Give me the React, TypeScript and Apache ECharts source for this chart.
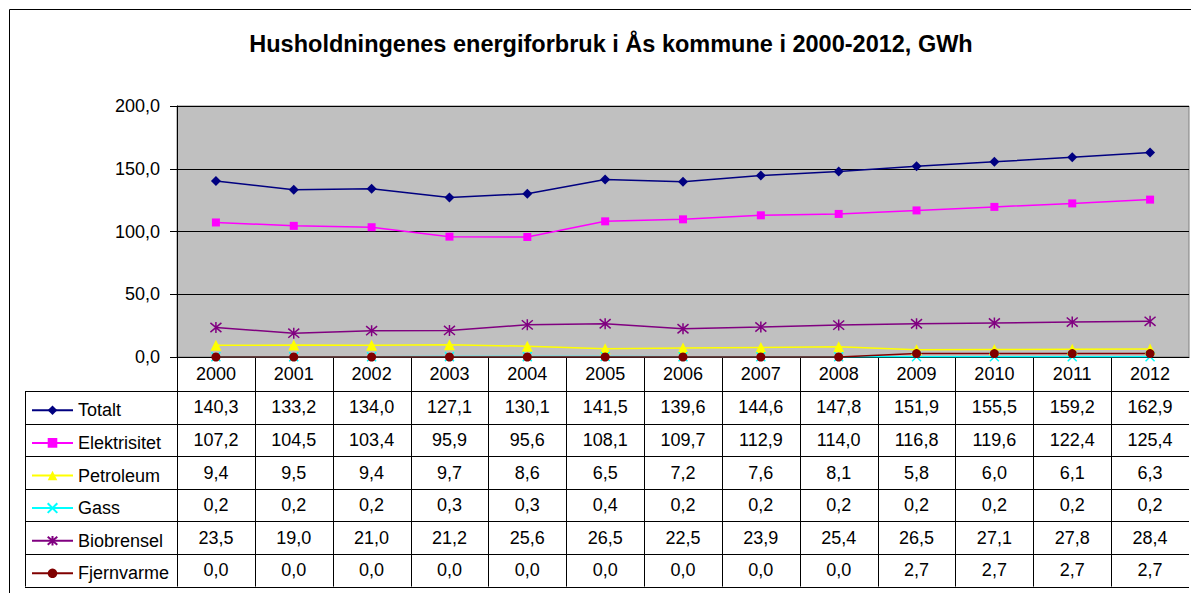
import React, { useEffect, useRef } from "react";
import * as echarts from "echarts";

const years = ["2000", "2001", "2002", "2003", "2004", "2005", "2006", "2007", "2008", "2009", "2010", "2011", "2012"];
const totalt = [140.3, 133.2, 134.0, 127.1, 130.1, 141.5, 139.6, 144.6, 147.8, 151.9, 155.5, 159.2, 162.9];
const elektrisitet = [107.2, 104.5, 103.4, 95.9, 95.6, 108.1, 109.7, 112.9, 114.0, 116.8, 119.6, 122.4, 125.4];
const petroleum = [9.4, 9.5, 9.4, 9.7, 8.6, 6.5, 7.2, 7.6, 8.1, 5.8, 6.0, 6.1, 6.3];
const gass = [0.2, 0.2, 0.2, 0.3, 0.3, 0.4, 0.2, 0.2, 0.2, 0.2, 0.2, 0.2, 0.2];
const biobrensel = [23.5, 19.0, 21.0, 21.2, 25.6, 26.5, 22.5, 23.9, 25.4, 26.5, 27.1, 27.8, 28.4];
const fjernvarme = [0.0, 0.0, 0.0, 0.0, 0.0, 0.0, 0.0, 0.0, 0.0, 2.7, 2.7, 2.7, 2.7];
const yTicks = { min: 0, max: 200, interval: 50 };
const title = "Husholdningenes energiforbruk i Ås kommune i 2000-2012, GWh";

const seriesDefs = [
  { name: "Totalt", data: totalt, color: "#000080", symbol: "diamond", size: 10, stroke: false },
  { name: "Elektrisitet", data: elektrisitet, color: "#FF00FF", symbol: "rect", size: 8, stroke: false },
  { name: "Petroleum", data: petroleum, color: "#FFFF00", symbol: "triangle", size: 11, stroke: false },
  { name: "Gass", data: gass, color: "#00FFFF", symbol: "path://M0,0L10,10M10,0L0,10", size: 9, stroke: true },
  { name: "Biobrensel", data: biobrensel, color: "#800080", symbol: "path://M0,0L10,10M10,0L0,10M5,-1L5,11", size: 11, stroke: true },
  { name: "Fjernvarme", data: fjernvarme, color: "#800000", symbol: "circle", size: 9, stroke: false },
];

const FONT = "'Liberation Sans', Arial, sans-serif";
const fmt = (v: number) => v.toFixed(1).replace(".", ",");

export default function App() {
  const ref = useRef<HTMLDivElement>(null);
  useEffect(() => {
    if (!ref.current) return;
    const chart = echarts.init(ref.current, null, { renderer: "svg" });
    const W = 1191;
    const gL = 177;
    const gR = 1189;
    const gT = 106;
    const gB = 357;
    const tableLeft = 25;
    const headerBottom = 391;
    const rowH = 32.6;
    const colW = (gR - gL) / years.length;
    const nRows = seriesDefs.length;
    const tableBottom = headerBottom + rowH * nRows;
    const rowCenter = (k: number) => headerBottom + rowH * (k + 0.5);

    const graphics: any[] = [];
    graphics.push({
      type: "rect",
      shape: { x: 9.5, y: 9.5, width: 1210, height: 610 },
      style: { fill: "none", stroke: "#000", lineWidth: 1 },
      silent: true,
    });
    for (let i = 0; i < years.length; i++) {
      const x = Math.round(gL + i * colW) + 0.5;
      graphics.push({
        type: "line",
        shape: { x1: x, y1: gB, x2: x, y2: tableBottom },
        style: { stroke: "#000", lineWidth: 1 },
        silent: true,
      });
    }
    graphics.push({
      type: "line",
      shape: { x1: tableLeft + 0.5, y1: headerBottom, x2: tableLeft + 0.5, y2: tableBottom },
      style: { stroke: "#000", lineWidth: 1 },
      silent: true,
    });
    for (let k = 0; k <= nRows; k++) {
      const y = Math.round(headerBottom + k * rowH) + 0.5;
      graphics.push({
        type: "line",
        shape: { x1: tableLeft, y1: y, x2: gR, y2: y },
        style: { stroke: "#000", lineWidth: 1 },
        silent: true,
      });
    }

    const xAxes: any[] = [
      {
        type: "category",
        data: years,
        gridIndex: 0,
        position: "bottom",
        boundaryGap: true,
        axisLine: { show: true, lineStyle: { color: "#000", width: 1 } },
        axisTick: { show: false },
        axisLabel: {
          interval: 0,
          margin: 17,
          verticalAlign: "middle",
          fontSize: 18,
          color: "#000",
          fontFamily: FONT,
        },
        splitLine: { show: false },
      },
    ];
    seriesDefs.forEach((s, k) => {
      xAxes.push({
        type: "category",
        data: years,
        gridIndex: 0,
        position: "bottom",
        offset: rowCenter(k) - gB,
        boundaryGap: true,
        axisLine: { show: false },
        axisTick: { show: false },
        splitLine: { show: false },
        axisLabel: {
          interval: 0,
          margin: 0,
          verticalAlign: "middle",
          fontSize: 18,
          color: "#000",
          fontFamily: FONT,
          formatter: (_v: string, i: number) => fmt(s.data[i]),
        },
      });
    });

    const legends = seriesDefs.map((s, k) => ({
      data: [s.name],
      orient: "vertical",
      left: 31,
      top: rowCenter(k) - 6,
      padding: 0,
      itemWidth: 41,
      itemHeight: 12,
      itemGap: 0,
      selectedMode: false,
      textStyle: { fontSize: 18, lineHeight: 12, color: "#000", fontFamily: FONT },
    }));

    chart.setOption({
      animation: false,
      textStyle: { fontFamily: FONT },
      title: {
        text: title,
        left: 606,
        top: 27,
        textAlign: "center",
        textStyle: { fontSize: 23.5, fontWeight: "bold", color: "#000", fontFamily: FONT },
      },
      legend: legends,
      grid: {
        left: gL,
        right: W - gR,
        top: gT,
        height: gB - gT,
        show: true,
        backgroundColor: "#C0C0C0",
        borderColor: "#808080",
        borderWidth: 1,
      },
      xAxis: xAxes,
      yAxis: {
        type: "value",
        min: yTicks.min,
        max: yTicks.max,
        interval: yTicks.interval,
        axisLine: { show: true, lineStyle: { color: "#000", width: 1 } },
        axisTick: { show: true, length: 7, lineStyle: { color: "#000" } },
        axisLabel: {
          margin: 17,
          fontSize: 18,
          color: "#000",
          fontFamily: FONT,
          formatter: (v: number) => fmt(v),
        },
        splitLine: { show: true, lineStyle: { color: "#000", width: 1 } },
      },
      series: seriesDefs.map((s) => ({
        name: s.name,
        type: "line",
        xAxisIndex: 0,
        yAxisIndex: 0,
        data: s.data,
        symbol: s.symbol,
        symbolSize: s.size,
        showSymbol: true,
        lineStyle: { color: s.color, width: 1.5 },
        itemStyle: s.stroke
          ? { color: s.color, borderColor: s.color, borderWidth: 1.5 }
          : { color: s.color, borderWidth: 0 },
      })),
      graphic: graphics,
    });
    return () => chart.dispose();
  }, []);
  return (
    <div
      ref={ref}
      style={{ position: "absolute", left: 0, top: 0, width: 1191, height: 593, background: "#fff" }}
    />
  );
}
